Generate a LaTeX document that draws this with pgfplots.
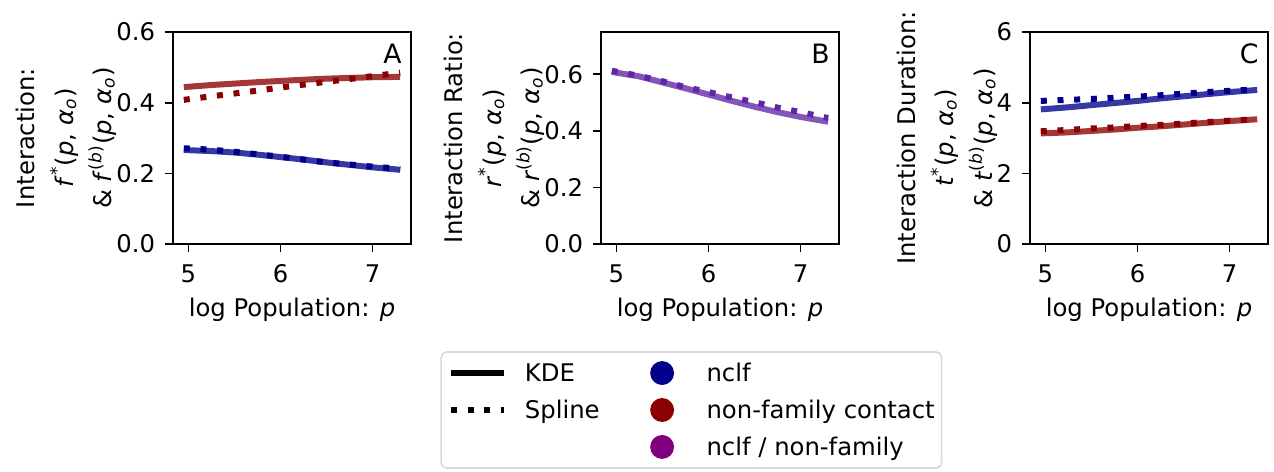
\documentclass[border=0pt]{standalone}
\usepackage{fontspec}
\setmainfont{DejaVu Sans}
\usepackage{pgfplots}
\pgfplotsset{compat=1.18}
\definecolor{cblue}{RGB}{0,0,139}
\definecolor{cred}{RGB}{139,0,0}
\definecolor{cpurp}{RGB}{98,38,165}
\definecolor{lpurp}{RGB}{128,0,128}
\tikzset{
  kde/.style={line width=2.16pt, opacity=0.78},
  spl/.style={line width=2.16pt, dash pattern=on 2.16pt off 3.85pt},
  letter/.style={anchor=north east, inner sep=0pt, xshift=-3.2pt, yshift=-4pt, font=\fontsize{9.6}{11}\selectfont},
}
\pgfplotsset{
  panel/.style={
    scale only axis, width=85.68pt, height=76.32pt,
    xmin=4.8325, xmax=7.4175, xtick={5,6,7},
    tick align=outside, xtick pos=bottom, ytick pos=left,
    major tick length=2.9pt,
    axis line style={line width=0.6pt},
    every tick/.style={line width=0.6pt, black},
    ticklabel style={font=\fontsize{8.75}{10}\selectfont},
    xticklabel style={yshift=-1pt},
    /pgf/number format/assume math mode=true,
    xlabel={log Population: \textit{p}},
    label style={font=\fontsize{8.75}{11.7}\selectfont},
    xlabel style={at={(axis description cs:0.5,-0.312)}, anchor=center},
    ylabel style={align=center, anchor=center},
  },
}
\begin{document}
\begin{tikzpicture}
\path[use as bounding box] (0,0) rectangle (458.64pt,169.56pt);
% Panel A
\begin{axis}[panel, at={(62.28pt,81.72pt)}, anchor=south west,
  ymin=0, ymax=0.6, ytick={0,0.2,0.4,0.6},
  yticklabel style={/pgf/number format/.cd, fixed, fixed zerofill, precision=1},
  ylabel={Interaction:\\[2.2pt]\textit{f}\textsuperscript{*}(\textit{p}, \textit{α}\textsubscript{\textit{o}})\\[2.2pt]\& \textit{f}\textsuperscript{(\textit{b})}(\textit{p}, \textit{α}\textsubscript{\textit{o}})},
  ylabel style={at={(axis description cs:-0.447,0.5)}},
]
\addplot[kde, cred] coordinates {(4.95,0.444) (5.25,0.450) (5.5,0.454) (5.75,0.458) (6.0,0.4615) (6.25,0.465) (6.5,0.468) (6.75,0.470) (7.0,0.472) (7.3,0.473)};
\addplot[kde, cblue] coordinates {(4.95,0.266) (5.25,0.263) (5.5,0.259) (5.75,0.253) (6.0,0.246) (6.25,0.239) (6.5,0.231) (6.75,0.224) (7.0,0.217) (7.3,0.210)};
\addplot[spl, cred] coordinates {(4.95,0.408) (5.25,0.418) (5.5,0.426) (5.75,0.434) (6.0,0.443) (6.25,0.451) (6.5,0.459) (6.75,0.467) (7.0,0.475) (7.3,0.485)};
\addplot[spl, cblue] coordinates {(4.95,0.271) (5.25,0.267) (5.5,0.261) (5.75,0.254) (6.0,0.247) (6.25,0.239) (6.5,0.231) (6.75,0.225) (7.0,0.219) (7.3,0.213)};
\node[letter] at (rel axis cs:1,1) {A};
\end{axis}
% Panel B
\begin{axis}[panel, at={(216.36pt,81.72pt)}, anchor=south west,
  ymin=0, ymax=0.749, ytick={0,0.2,0.4,0.6},
  yticklabel style={/pgf/number format/.cd, fixed, fixed zerofill, precision=1},
  ylabel={Interaction Ratio:\\[2.2pt]\textit{r}\textsuperscript{*}(\textit{p}, \textit{α}\textsubscript{\textit{o}})\\[2.2pt]\& \textit{r}\textsuperscript{(\textit{b})}(\textit{p}, \textit{α}\textsubscript{\textit{o}})},
  ylabel style={at={(axis description cs:-0.447,0.5)}},
]
\addplot[kde, cpurp] coordinates {(4.95,0.608) (5.25,0.592) (5.5,0.571) (5.75,0.550) (6.0,0.528) (6.25,0.506) (6.5,0.485) (6.75,0.466) (7.0,0.449) (7.3,0.432)};
\addplot[spl, cpurp] coordinates {(4.95,0.612) (5.25,0.594) (5.5,0.575) (5.75,0.554) (6.0,0.537) (6.25,0.518) (6.5,0.501) (6.75,0.482) (7.0,0.466) (7.3,0.445)};
\node[letter] at (rel axis cs:1,1) {B};
\end{axis}
% Panel C
\begin{axis}[panel, at={(370.8pt,81.72pt)}, anchor=south west,
  ymin=0, ymax=6, ytick={0,2,4,6},
  ylabel={Interaction Duration:\\[2.2pt]\textit{t}\textsuperscript{*}(\textit{p}, \textit{α}\textsubscript{\textit{o}})\\[2.2pt]\& \textit{t}\textsuperscript{(\textit{b})}(\textit{p}, \textit{α}\textsubscript{\textit{o}})},
  ylabel style={at={(axis description cs:-0.348,0.5)}},
]
\addplot[kde, cblue] coordinates {(4.95,3.81) (5.25,3.87) (5.5,3.93) (5.75,3.99) (6.0,4.05) (6.25,4.12) (6.5,4.18) (6.75,4.24) (7.0,4.30) (7.3,4.36)};
\addplot[kde, cred] coordinates {(4.95,3.13) (5.25,3.16) (5.5,3.20) (5.75,3.24) (6.0,3.29) (6.25,3.33) (6.5,3.38) (6.75,3.43) (7.0,3.48) (7.3,3.53)};
\addplot[spl, cblue] coordinates {(4.95,4.05) (5.25,4.08) (5.5,4.105) (5.75,4.14) (6.0,4.17) (6.25,4.21) (6.5,4.255) (6.75,4.30) (7.0,4.335) (7.3,4.38)};
\addplot[spl, cred] coordinates {(4.95,3.19) (5.25,3.23) (5.5,3.27) (5.75,3.30) (6.0,3.34) (6.25,3.37) (6.5,3.41) (6.75,3.45) (7.0,3.49) (7.3,3.53)};
\node[letter] at (rel axis cs:1,1) {C};
\end{axis}
% Legend
\begin{axis}[at={(248.9pt,21.96pt)}, anchor=center, scale only axis,
  width=180.4pt, height=41.8pt, hide axis,
  xmin=0, xmax=1, ymin=0, ymax=1,
  legend columns=2, legend cell align=left,
  legend style={at={(0.5,0.5)}, anchor=center, draw=black!15, line width=0.6pt,
    rounded corners=2pt, font=\fontsize{8.75}{10}\selectfont,
    inner xsep=2.5pt, inner ysep=3.3pt, row sep=4.7pt,
    /tikz/every odd column/.append style={column sep=6.5pt},
    /tikz/every even column/.append style={column sep=13pt},
    nodes={inner sep=0pt, text height=6.4pt, text depth=0pt}},
]
\addlegendimage{legend image code/.code={\draw[black, line width=2.16pt] (0pt,0pt) -- (19pt,0pt);}}
\addlegendentry{KDE}
\addlegendimage{legend image code/.code={\path[draw=none] (0pt,0pt) -- (19pt,0pt); \fill[cblue, draw=none] (9.5pt,0pt) circle (4.3pt);}}
\addlegendentry{nclf}
\addlegendimage{legend image code/.code={\draw[black, line width=2.16pt, dash pattern=on 2.16pt off 3.85pt] (0pt,0pt) -- (19pt,0pt);}}
\addlegendentry{Spline}
\addlegendimage{legend image code/.code={\path[draw=none] (0pt,0pt) -- (19pt,0pt); \fill[cred, draw=none] (9.5pt,0pt) circle (4.3pt);}}
\addlegendentry{non-family contact}
\addlegendimage{legend image code/.code={\path[draw=none] (0pt,0pt) -- (19pt,0pt);}}
\addlegendentry{}
\addlegendimage{legend image code/.code={\path[draw=none] (0pt,0pt) -- (19pt,0pt); \fill[lpurp, draw=none] (9.5pt,0pt) circle (4.3pt);}}
\addlegendentry{nclf / non-family}
\end{axis}
\end{tikzpicture}
\end{document}
